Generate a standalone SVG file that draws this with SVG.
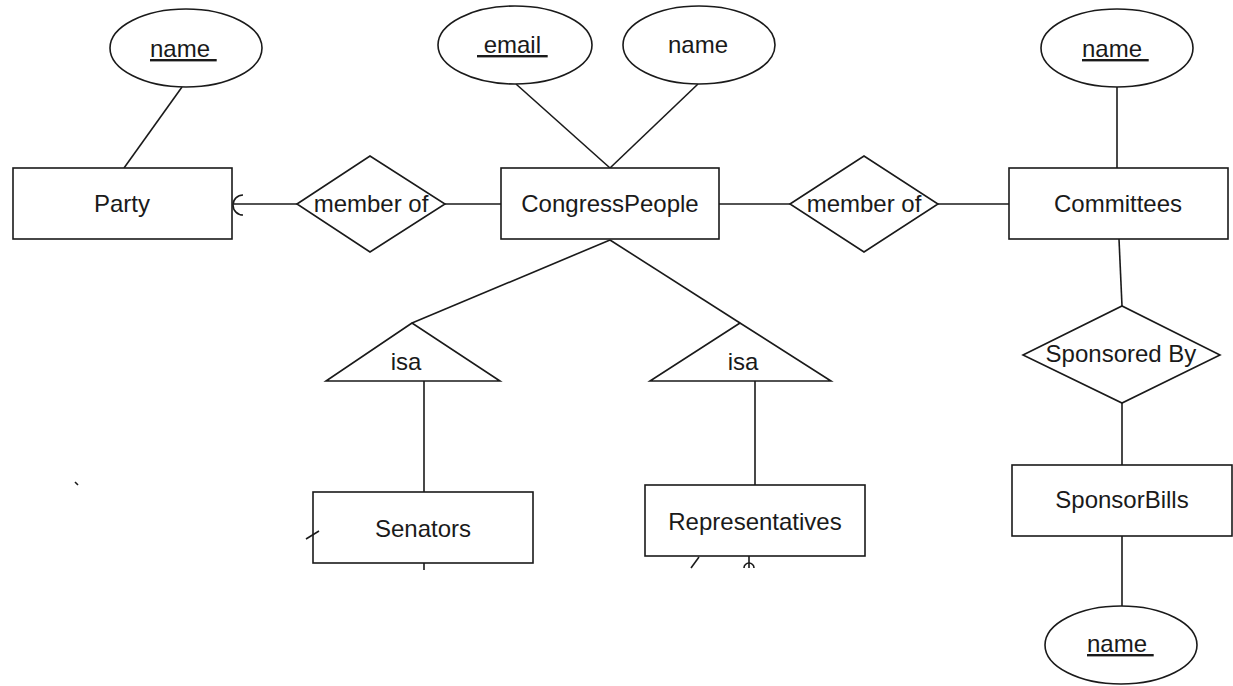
<svg xmlns="http://www.w3.org/2000/svg" width="1233" height="686" viewBox="0 0 1233 686">
<style>
.s{fill:#fff;stroke:#1a1a1a;stroke-width:1.6}
.l{fill:none;stroke:#1a1a1a;stroke-width:1.6}
.t{font-family:"Liberation Sans",Arial,sans-serif;font-size:24px;fill:#1a1a1a}
.c{text-anchor:middle}
.u{text-decoration:underline;white-space:pre}
</style>
<rect width="1233" height="686" fill="#fff"/>
<g id="connectors">
<line class="l" x1="182" y1="87" x2="124" y2="168"/>
<line class="l" x1="234" y1="204" x2="297" y2="204"/>
<path class="l" d="M243,195 A10,10 0 0,0 243,215"/>
<line class="l" x1="445" y1="204" x2="501" y2="204"/>
<line class="l" x1="516" y1="84" x2="610" y2="168"/>
<line class="l" x1="698" y1="84" x2="610" y2="168"/>
<line class="l" x1="719" y1="204" x2="790" y2="204"/>
<line class="l" x1="938" y1="204" x2="1009" y2="204"/>
<line class="l" x1="1117" y1="87" x2="1117" y2="168"/>
<line class="l" x1="1119" y1="239" x2="1122" y2="306"/>
<line class="l" x1="1122" y1="403" x2="1122" y2="465"/>
<line class="l" x1="1122" y1="536" x2="1122" y2="606"/>
<line class="l" x1="610" y1="240" x2="412" y2="323"/>
<line class="l" x1="610" y1="240" x2="740" y2="323"/>
<line class="l" x1="424" y1="381" x2="424" y2="492"/>
<line class="l" x1="755" y1="381" x2="755" y2="485"/>
<line class="l" x1="424" y1="563" x2="424" y2="570"/>
<line class="l" x1="699" y1="557" x2="691" y2="568"/>
<line class="l" x1="749" y1="556" x2="749" y2="568"/>
<path class="l" d="M744,568 A5,5 0 0,1 754,568"/>
<line class="l" x1="75" y1="482" x2="78" y2="485"/>
</g>
<g id="party-name"><ellipse class="s" cx="186" cy="48" rx="76" ry="39"/><text class="t u" x="150" y="57">name </text></g>
<g id="party"><rect class="s" x="13" y="168" width="219" height="71"/><text class="t c" x="122" y="212">Party</text></g>
<g id="member-of-1"><polygon class="s" points="297,204 370,156 445,204 370,252"/><text class="t c" x="371" y="212">member of</text></g>
<g id="email"><ellipse class="s" cx="515" cy="45" rx="77" ry="39"/><text class="t u" x="477" y="53"> email </text></g>
<g id="cp-name"><ellipse class="s" cx="699" cy="45" rx="76" ry="39"/><text class="t c" x="698" y="53">name</text></g>
<g id="congresspeople"><rect class="s" x="501" y="168" width="218" height="71"/><text class="t c" x="610" y="212">CongressPeople</text></g>
<g id="member-of-2"><polygon class="s" points="790,204 864,156 938,204 864,252"/><text class="t c" x="864" y="212">member of</text></g>
<g id="committees-name"><ellipse class="s" cx="1117" cy="48" rx="76" ry="39"/><text class="t u" x="1082" y="57">name </text></g>
<g id="committees"><rect class="s" x="1009" y="168" width="219" height="71"/><text class="t c" x="1118" y="212">Committees</text></g>
<g id="sponsored-by"><polygon class="s" points="1023,355 1122,306 1220,355 1122,403"/><text class="t c" x="1121" y="362">Sponsored By</text></g>
<g id="sponsorbills"><rect class="s" x="1012" y="465" width="220" height="71"/><text class="t c" x="1122" y="508">SponsorBills</text></g>
<g id="sponsorbills-name"><ellipse class="s" cx="1121" cy="645" rx="76" ry="39"/><text class="t u" x="1087" y="652">name </text></g>
<g id="isa-1"><polygon class="s" points="412,323 326,381 500,381"/><text class="t c" x="406" y="370">isa</text></g>
<g id="isa-2"><polygon class="s" points="740,323 650,381 831,381"/><text class="t c" x="743" y="370">isa</text></g>
<g id="senators"><rect class="s" x="313" y="492" width="220" height="71"/><text class="t c" x="423" y="537">Senators</text><line class="l" x1="306" y1="539" x2="319" y2="531"/></g>
<g id="representatives"><rect class="s" x="645" y="485" width="220" height="71"/><text class="t c" x="755" y="530">Representatives</text></g>
</svg>
